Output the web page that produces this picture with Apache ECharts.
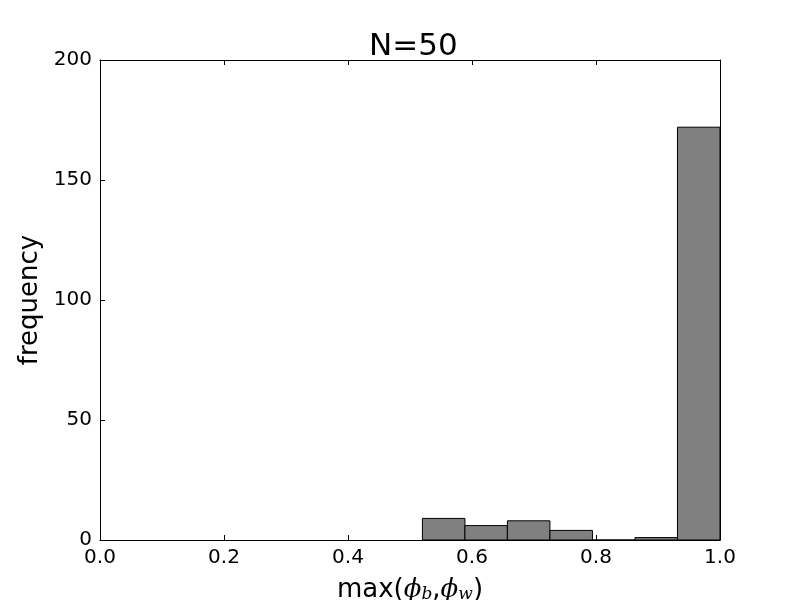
<!DOCTYPE html>
<html>
<head>
<meta charset="utf-8">
<script src="https://cdn.jsdelivr.net/npm/echarts@6/dist/echarts.min.js"></script>
<style>html,body{margin:0;padding:0;background:#fff}#c{width:800px;height:600px}</style>
</head>
<body>
<div id="c"></div>
<script>
const binEdges = [0.52, 0.5886, 0.6571, 0.7257, 0.7943, 0.8629, 0.9314, 1.0];
const counts = [9, 6, 8, 4, 0, 1, 172];
const xTicks = [0.0, 0.2, 0.4, 0.6, 0.8, 1.0];
const yTicks = [0, 50, 100, 150, 200];
const titleText = 'N=50';

const data = counts.map((c, i) => [binEdges[i], binEdges[i + 1], c]);
const FONT = 'DejaVu Sans';
const chart = echarts.init(document.getElementById('c'), null, {renderer: 'canvas'});
const axisCommon = {
  axisLine: {show: true, onZero: false, lineStyle: {color: '#000', width: 1}},
  splitLine: {show: false},
};
chart.setOption({
  animation: false,
  backgroundColor: '#fff',
  title: {
    text: titleText, left: 364, top: 26,
    textStyle: {fontFamily: FONT, fontSize: 31, fontWeight: 'normal', color: '#000'}
  },
  grid: {left: 100, right: 80, top: 60, bottom: 60, containLabel: false, outerBoundsMode: 'none'},
  xAxis: [{
    type: 'value', min: 0, max: 1, interval: 0.2, position: 'bottom',
    ...axisCommon,
    axisTick: {show: true, inside: true, length: 5, lineStyle: {color: '#000'}},
    axisLabel: {fontFamily: FONT, fontSize: 20, color: '#000', margin: 8,
      formatter: v => v.toFixed(1)},
    name: '{a|max(}{i|ϕ}{s|b}{a|,}{i|ϕ}{s|w}{a|)}',
    nameLocation: 'middle', nameGap: 30,
    nameTextStyle: {
      rich: {
        a: {fontFamily: FONT, fontSize: 26, color: '#000', height: 30},
        i: {fontFamily: 'DejaVu Serif', fontStyle: 'italic', fontSize: 26, color: '#000', height: 30},
        s: {fontFamily: 'DejaVu Serif', fontStyle: 'italic', fontSize: 17, color: '#000', height: 30, padding: [10, 0, 0, 0]}
      }
    }
  }, {
    type: 'value', min: 0, max: 1, interval: 0.2, position: 'top',
    ...axisCommon,
    axisTick: {show: true, inside: true, length: 5, lineStyle: {color: '#000'}},
    axisLabel: {show: false}
  }],
  yAxis: [{
    type: 'value', min: 0, max: 200, interval: 50, position: 'left',
    ...axisCommon,
    axisTick: {show: true, inside: true, length: 5, lineStyle: {color: '#000'}},
    axisLabel: {fontFamily: FONT, fontSize: 20, color: '#000', margin: 8},
    name: 'frequency', nameLocation: 'middle', nameGap: 53, nameRotate: 90,
    nameTextStyle: {fontFamily: FONT, fontSize: 26, color: '#000'}
  }, {
    type: 'value', min: 0, max: 200, interval: 50, position: 'right',
    ...axisCommon,
    axisTick: {show: true, inside: true, length: 5, lineStyle: {color: '#000'}},
    axisLabel: {show: false}
  }],
  series: [{
    type: 'custom',
    xAxisIndex: 0, yAxisIndex: 0,
    data: data,
    encode: {x: [0, 1], y: 2},
    renderItem: function (params, api) {
      const x0 = api.value(0), x1 = api.value(1), y = api.value(2);
      const p0 = api.coord([x0, y]);
      const p1 = api.coord([x1, 0]);
      return {
        type: 'rect',
        shape: {x: p0[0], y: p0[1], width: p1[0] - p0[0], height: p1[1] - p0[1]},
        style: {fill: '#808080', stroke: '#000', lineWidth: 1}
      };
    }
  }]
});
</script>
</body>
</html>
